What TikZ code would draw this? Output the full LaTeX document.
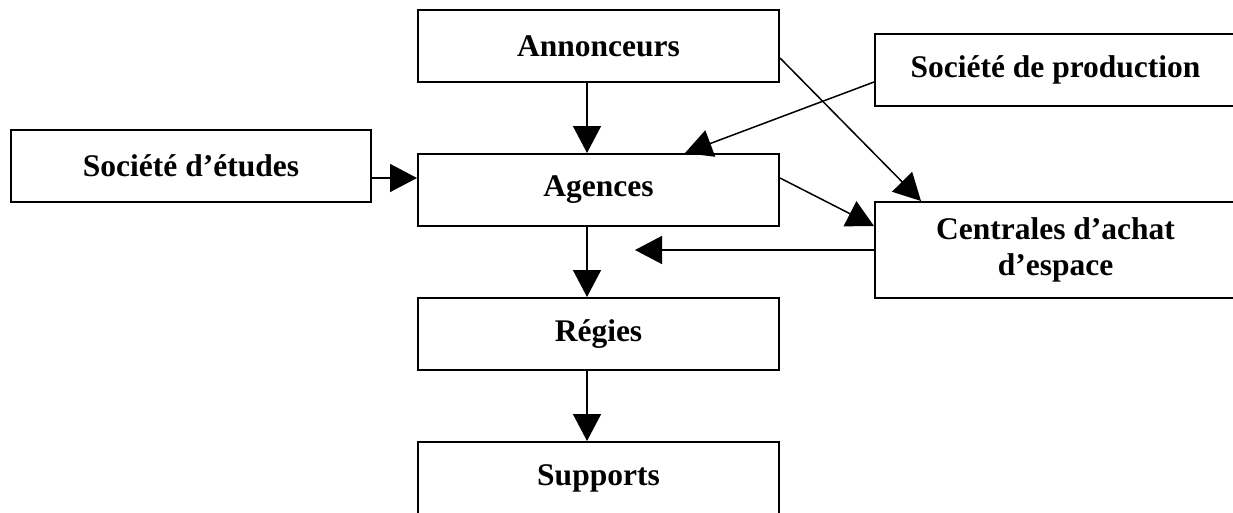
\documentclass[tikz,border=0pt]{standalone}
\usepackage{fontspec}
\setmainfont{Liberation Serif}
\usetikzlibrary{arrows.meta,calc,shapes}
\tikzset{
    block/.style = {draw, rectangle, line width=2pt, inner sep=0pt,
        minimum height=72pt,
        minimum width=361pt,
        font=\fontsize{31.5}{36}\selectfont\bfseries},
    arrow/.style = {draw, line width=1.5pt, -{Triangle[length=27pt,width=28pt]}}
}
\begin{document}
\begin{tikzpicture}[x=1pt, y=-1pt]
            \useasboundingbox (0,0) rectangle (1233,512);
            \clip (0,0) rectangle (1233,512);
            \node[block] (annonceurs) at (598.5,46) {Annonceurs};
            \node[block] (agences) at (598.5,190) {Agences};
            \node[block] (regies) at (598.5,334) {Régies};
            \node[block] (supports) at (598.5,478) {Supports};
            \node[block, minimum width=360pt] (etudes) at (191,166) {Société d’études};
            \node[block] (production) at (1055.5,70) {Société de production};
            \node[block, minimum height=96pt, align=center] (centrales) at (1055.5,250) {Centrales d’achat\\d’espace};
            \coordinate (retour) at (635,250);
            \draw [arrow] ([xshift=-11.5pt]annonceurs.south) -- ([xshift=-11.5pt]agences.north);
            \draw [arrow] ([xshift=-11.5pt]agences.south) -- ([xshift=-11.5pt]regies.north);
            \draw [arrow] ([xshift=-11.5pt]regies.south) -- ([xshift=-11.5pt]supports.north);
            \draw [arrow] ([yshift=-12pt]etudes.east) -- ([yshift=12pt]agences.west);
            \draw [arrow] ([yshift=-12pt]annonceurs.east) -- ([xshift=47pt]centrales.north west);
            \draw [arrow] ([yshift=-12pt]production.west) -- ([xshift=86.5pt]agences.north);
            \draw [arrow] ([yshift=12pt]agences.east) -- ([yshift=24pt]centrales.west);
            \draw [arrow] (centrales.west) -- (retour);
        \end{tikzpicture}
\end{document}
